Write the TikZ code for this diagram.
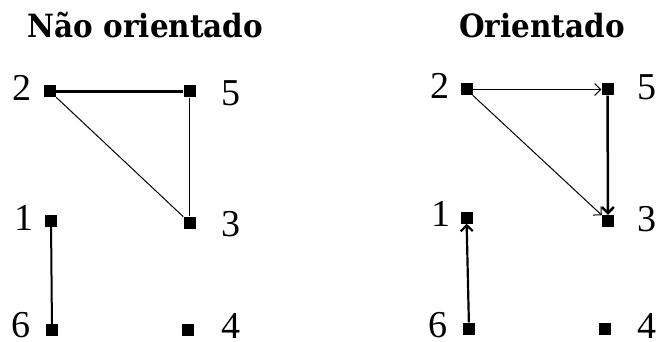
\documentclass[tikz,border=0pt]{standalone}
\usepackage{fontspec}
\setmainfont{Liberation Serif}
\newfontfamily\ttlfont[FakeStretch=0.92]{DejaVu Serif}
\usetikzlibrary{arrows.meta}

\begin{document}
\begin{tikzpicture}[x=1pt,y=-1pt,>={Straight Barb[length=6pt,width=12pt]},
  vtx/.style={fill,minimum size=12pt,inner sep=0pt},
  lbl/.style={font=\fontsize{38}{38}\selectfont,inner sep=0pt},
  ttl/.style={font=\fontsize{32}{32}\selectfont\ttlfont\bfseries,inner sep=0pt,anchor=base}]
\useasboundingbox (0,0) rectangle (660,342);
% left graph
\node[ttl] (tl) at (145.5,38) {Não orientado};
\node[vtx] (a2) at (50,91.5) {};
\node[vtx] (a5) at (189.5,91.5) {};
\node[vtx] (a1) at (51,221) {};
\node[vtx] (a3) at (189.5,222.5) {};
\node[vtx] (a6) at (52,330) {};
\node[vtx] (a4) at (187.5,330) {};
\node[lbl] (la2) at (22,88) {2};
\node[lbl] (la5) at (231,93) {5};
\node[lbl] (la1) at (24,218) {1};
\node[lbl] (la3) at (231,224) {3};
\node[lbl] (la6) at (21,325.5) {6};
\node[lbl] (la4) at (231,325.5) {4};
\draw[line width=2.5pt] (a2)--(a5);
\draw[line width=1pt] (a2)--(a3);
\draw[line width=1.6pt] (a5)--(a3);
\draw[line width=2pt] (a1)--(a6);
% right graph
\node[ttl] (tr) at (542,38) {Orientado};
\node[vtx] (b2) at (466.5,89.5) {};
\node[vtx] (b5) at (607.5,89.5) {};
\node[vtx] (b1) at (466.5,217.5) {};
\node[vtx] (b3) at (608,221) {};
\node[vtx] (b6) at (469,328.5) {};
\node[vtx] (b4) at (605,328.5) {};
\node[lbl] (lb2) at (440,86) {2};
\node[lbl] (lb5) at (647,87) {5};
\node[lbl] (lb1) at (441,214) {1};
\node[lbl] (lb3) at (647,219) {3};
\node[lbl] (lb6) at (438,325.5) {6};
\node[lbl] (lb4) at (647,325.5) {4};
\draw[->,line width=1pt] (b2)--(b5);
\draw[->,line width=1pt] (b2)--(b3);
\draw[->,line width=2.5pt] (b5)--(b3);
\draw[->,line width=2.2pt] (b6)--(b1);
\end{tikzpicture}
\end{document}
